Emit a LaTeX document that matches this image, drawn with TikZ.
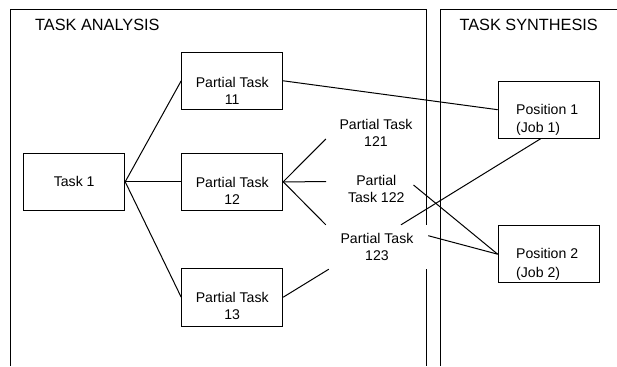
\documentclass[tikz,border=0pt]{standalone}
\usepackage{fontspec}
\setmainfont{Liberation Sans}
\usetikzlibrary{calc}
\begin{document}
\begin{tikzpicture}[x=1pt,y=-1pt,
  panel/.style={line width=1pt},
  box/.style={draw, line width=1pt, minimum width=101pt, minimum height=57pt, inner sep=0pt,
              font=\fontsize{14.1}{17}\selectfont},
  txt/.style={inner sep=0pt, align=center, font=\fontsize{14.1}{17}\selectfont},
  postxt/.style={inner sep=0pt, align=left, anchor=west, font=\fontsize{14.1}{18.5}\selectfont},
  title/.style={inner sep=0pt, anchor=base west, font=\fontsize{16.3}{19}\selectfont},
  link/.style={line width=1pt}]
\useasboundingbox (0,0) rectangle (617,366);

% the two panels, open at the bottom
\draw[panel] (10,366) -- (10,10) -- (426.5,10) -- (426.5,366);
\draw[panel] (440,366) -- (440,10) -- (617,10);
\node[title] (ta) at (35,30.7) {TASK ANALYSIS};
\node[title] (ts) at (459.3,30.7) {TASK SYNTHESIS};

% task decomposition
\node[box] (t1) at (74.2,181.8) {Task 1};
\node[box] (p11) at (232.2,80.8) {};
\node[txt] (p11t) at (232.2,90.8) {Partial Task\\11};
\node[box] (p12) at (232.2,181.8) {};
\node[txt] (p12t) at (232.2,191.3) {Partial Task\\12};
\node[box, minimum height=58pt] (p13) at (232.2,297.2) {};
\node[txt] (p13t) at (232.2,306) {Partial Task\\13};

% second-level partial tasks (borderless)
\node[txt, minimum width=100pt] (n121) at (376,133.3) {Partial Task\\121};
\node[txt, minimum width=100pt] (n122) at (376.3,189.2) {Partial\\Task 122};
\node[txt, fill=white, minimum width=102pt, minimum height=44pt] (n123) at (377,247) {Partial Task\\123};

% positions
\node[box] (pos1) at (548.7,109.7) {};
\node[postxt] (pos1t) at (516,119.7) {Position 1\\(Job 1)};
\node[box] (pos2) at (548.7,254.2) {};
\node[postxt] (pos2t) at (516,264.5) {Position 2\\(Job 2)};

% connectors
\draw[link] (t1.east) -- (p11.west);
\draw[link] (t1.east) -- (p12.west);
\draw[link] (t1.east) -- (p13.west);
\draw[link] (p11.east) -- (pos1.west);
\draw[link] (p12.east) -- ($(n121.west)+(0,5.7)$);
\draw[link] (p12.east) -- ($(n122.west)+(0,-7.5)$);
\draw[link] (p12.east) -- (n123.north west);
\draw[link] (p13.east) -- ($(n123.south west)+(3,0)$);
\draw[link] ($(pos1.south)+(-8,0)$) -- ($(n123.north)+(24,0)$);
\draw[link] ($(n122.east)+(-13,-4.2)$) -- (pos2.west);
\draw[link] ($(n123.east)+(0,-11.3)$) -- (pos2.west);
\end{tikzpicture}
\end{document}
